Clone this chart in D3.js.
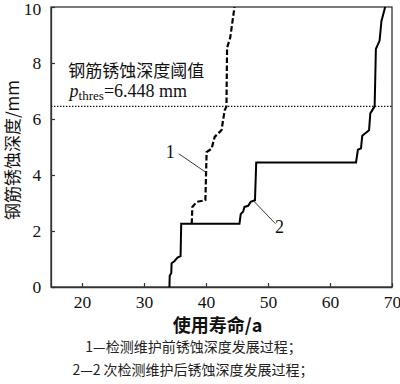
<!DOCTYPE html>
<html><head><meta charset="utf-8">
<script src="https://cdn.jsdelivr.net/npm/d3@7"></script>
<style>
html,body{margin:0;padding:0;background:#fff;}
svg{display:block;}
</style></head>
<body>
<svg id="c" width="400" height="384"></svg>
<script>
// ---- data ----
const xTicks = [20, 30, 40, 50, 60, 70];
const yTicks = [0, 2, 4, 6, 8, 10];
const threshold = 6.448;
// curve 2: after 2 inspections & maintenance (solid)
const curve2Years  = [34.1,34.15,34.4,34.45,34.9,35.4,35.9,36.0,45.4,45.6,46.0,46.2,46.8,47.2,47.9,48.1,64.2,64.5,65.0,65.2,66.3,66.5,67.2,67.4,68.0,68.3,68.9];
const curve2Depths = [0,0.4,0.5,0.85,0.92,1.05,1.1,2.26,2.26,2.6,2.7,2.86,2.9,3.04,3.1,4.45,4.45,4.9,4.95,5.4,5.6,6.2,6.45,8.5,8.8,9.5,10];
// curve 1: before inspection & maintenance (dashed), branching from curve 2
const curve1Years  = [37.7,37.8,38.5,39.9,40.1,40.9,41.4,42.5,43.0,43.3,43.4,43.9,44.6];
const curve1Depths = [2.26,2.86,3.04,3.1,4.82,4.94,5.36,5.6,6.3,6.45,8.55,8.9,10];
const xTitle = "使用寿命/a";
const yTitle = "钢筋锈蚀深度/mm";
const notes = ["1—检测维护前锈蚀深度发展过程；", "2—2 次检测维护后锈蚀深度发展过程；"];

// ---- layout ----
const svg = d3.select("#c");
const L = 51, R = 392, T = 7, B = 287;
const x = d3.scaleLinear().domain([15, 70]).range([L, R]);
const y = d3.scaleLinear().domain([0, 10]).range([B, T]);
const serif = "'Liberation Serif','Times New Roman',serif";
const cjk = "'Noto Sans CJK SC','Noto Sans',sans-serif";

// frame
svg.append("rect").attr("x", L).attr("y", T).attr("width", R - L).attr("height", B - T)
  .attr("fill", "none").attr("stroke", "#333").attr("stroke-width", 1.3);

// axes with inward ticks
const xAxis = svg.append("g").attr("transform", `translate(0,${B})`)
  .call(d3.axisBottom(x).tickValues(xTicks).tickSizeInner(-4).tickSizeOuter(0).tickPadding(9));
const yAxis = svg.append("g").attr("transform", `translate(${L},0)`)
  .call(d3.axisLeft(y).tickValues(yTicks).tickSizeInner(-4).tickSizeOuter(0).tickPadding(8));
[xAxis, yAxis].forEach(g => {
  g.select(".domain").attr("stroke", "#333").attr("stroke-width", 1.3);
  g.selectAll(".tick line").attr("stroke", "#333").attr("stroke-width", 1.2);
  g.selectAll(".tick text").attr("font-family", serif).attr("font-size", 17.5).attr("fill", "#111");
});
yAxis.selectAll(".tick text").attr("dx", "-0.1em");
yAxis.selectAll(".tick").filter(d => d === 10).select("text").attr("y", 2);

// threshold line
svg.append("line").attr("x1", x(15)).attr("x2", x(70))
  .attr("y1", y(threshold)).attr("y2", y(threshold))
  .attr("stroke", "#111").attr("stroke-width", 1.2).attr("stroke-dasharray", "1.4,1.6");

const line = d3.line().x(d => x(d[0])).y(d => y(d[1]));
const c2 = curve2Years.map((v, i) => [v, curve2Depths[i]]);
const c1 = curve1Years.map((v, i) => [v, curve1Depths[i]]);
svg.append("path").datum(c2).attr("d", line).attr("fill", "none")
  .attr("stroke", "#000").attr("stroke-width", 2);
svg.append("path").datum(c1).attr("d", line).attr("fill", "none")
  .attr("stroke", "#000").attr("stroke-width", 2.2).attr("stroke-dasharray", "5.5,2.5");

// leaders and labels
svg.append("line").attr("x1", x(35.6)).attr("y1", y(4.76)).attr("x2", x(40.15)).attr("y2", y(4.07))
  .attr("stroke", "#222").attr("stroke-width", 0.9);
svg.append("text").attr("x", x(34.25)).attr("y", y(4.6)).attr("text-anchor", "middle")
  .attr("font-family", serif).attr("font-size", 18).attr("fill", "#111").text("1");
svg.append("line").attr("x1", x(47.7)).attr("y1", y(3.07)).attr("x2", x(51.2)).attr("y2", y(2.26))
  .attr("stroke", "#222").attr("stroke-width", 0.9);
svg.append("text").attr("x", x(51.85)).attr("y", y(1.93)).attr("text-anchor", "middle")
  .attr("font-family", serif).attr("font-size", 18).attr("fill", "#111").text("2");

// threshold annotation
svg.append("text").attr("x", x(17.8)).attr("y", y(7.5))
  .attr("font-family", cjk).attr("font-size", 17).attr("fill", "#111").text("钢筋锈蚀深度阈值");
const t2 = svg.append("text").attr("x", x(18.0)).attr("y", y(6.79))
  .attr("font-family", serif).attr("font-size", 18).attr("fill", "#111");
t2.append("tspan").attr("font-style", "italic").text("p");
t2.append("tspan").attr("font-size", 13).attr("dy", 3).text("thres");
t2.append("tspan").attr("dy", -3).text("=6.448 mm");

// axis titles
svg.append("text").attr("x", 217.5).attr("y", 332).attr("text-anchor", "middle")
  .attr("font-family", cjk).attr("font-weight", "bold").attr("font-size", 18).attr("fill", "#111")
  .text(xTitle);
svg.append("text").attr("transform", "translate(19,150) rotate(-90)").attr("text-anchor", "middle")
  .attr("font-family", cjk).attr("font-size", 17).attr("fill", "#111").text(yTitle);

// notes
svg.append("text").attr("x", 193.5).attr("y", 352).attr("text-anchor", "middle")
  .attr("font-family", cjk).attr("font-size", 14).attr("fill", "#222").text(notes[0]);
svg.append("text").attr("x", 193).attr("y", 375).attr("text-anchor", "middle")
  .attr("font-family", cjk).attr("font-size", 14).attr("fill", "#222").text(notes[1]);
</script>
</body></html>
